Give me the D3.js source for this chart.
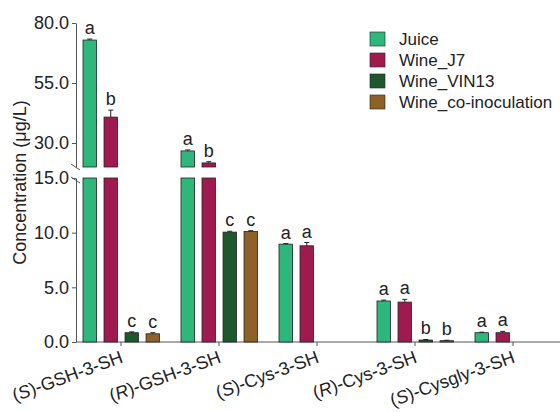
<!DOCTYPE html>
<html>
<head>
<meta charset="utf-8">
<script src="https://cdn.jsdelivr.net/npm/d3@7"></script>
<style>
  body { margin: 0; background: #fff; }
  svg text { font-family: "Liberation Sans", Arial, sans-serif; fill: #222; }
</style>
</head>
<body>
<svg id="chart" width="560" height="412"></svg>
<script>
// data
const categories = ["S-GSH-3-SH", "R-GSH-3-SH", "S-Cys-3-SH", "R-Cys-3-SH", "S-Cysgly-3-SH"];
const labelPrefix = ["S", "R", "S", "R", "S"];
const labelRest = ["-GSH-3-SH", "-GSH-3-SH", "-Cys-3-SH", "-Cys-3-SH", "-Cysgly-3-SH"];
const series = ["Juice", "Wine_J7", "Wine_VIN13", "Wine_co-inoculation"];
const colors = ["#2cb87b", "#a01a4f", "#1c5a2d", "#8e6126"];

// null = not detected
const juice = [72.9, 26.7, 8.95, 3.75, 0.85];
const wineJ7 = [40.8, 21.7, 8.8, 3.65, 0.85];
const wineVIN13 = [0.85, 10.05, null, 0.18, null];
const wineCo = [0.75, 10.1, null, 0.12, null];

const juiceErr = [0.4, 0.4, 0.05, 0.08, 0.05];
const wineJ7Err = [2.9, 0.5, 0.3, 0.25, 0.12];
const wineVIN13Err = [0.08, 0.08, null, 0.05, null];
const wineCoErr = [0.1, 0.08, null, 0.04, null];

const juiceSig = ["a", "a", "a", "a", "a"];
const wineJ7Sig = ["b", "b", "a", "a", "a"];
const wineVIN13Sig = ["c", "c", null, "b", null];
const wineCoSig = ["c", "c", null, "b", null];

const lowTicks = [0, 5, 10, 15];
const highTicks = [30, 55, 80];

const values = [juice, wineJ7, wineVIN13, wineCo];
const errs = [juiceErr, wineJ7Err, wineVIN13Err, wineCoErr];
const sigs = [juiceSig, wineJ7Sig, wineVIN13Sig, wineCoSig];

const svg = d3.select("#chart");
const axisX = 76;
const fs = 18;

const yLow = d3.scaleLinear().domain([0, 15]).range([342, 178]);
const yHigh = d3.scaleLinear().domain([20, 80]).range([167, 23]);
const yTop = v => v > 15 ? yHigh(v) : yLow(v);

const x0 = d3.scaleBand().domain(categories).range([72, 562]).padding(0);
const x1 = d3.scaleBand().domain(series).range([11, 87.5]).paddingInner(0.36);

const fmt = d3.format(".1f");

// y axes (two segments)
function styleAxis(g) {
  g.selectAll("path, line").attr("stroke", "#555").attr("stroke-width", 1);
  g.selectAll("text").attr("font-size", fs).attr("fill", "#222")
    .style("font-family", '"Liberation Sans", Arial, sans-serif');
}
svg.append("g").attr("transform", `translate(${axisX},0)`)
  .call(d3.axisLeft(yLow).tickValues(lowTicks).tickFormat(fmt).tickSize(4).tickSizeOuter(0).tickPadding(3))
  .call(styleAxis);
svg.append("g").attr("transform", `translate(${axisX},0)`)
  .call(d3.axisLeft(yHigh).tickValues(highTicks).tickFormat(fmt).tickSize(4).tickSizeOuter(0).tickPadding(3))
  .call(styleAxis);

// break marks on the y axis
[yHigh(20) - 3, yLow(15) - 1].forEach(y => {
  svg.append("line")
    .attr("x1", axisX - 5).attr("y1", y)
    .attr("x2", axisX + 4).attr("y2", y + 6)
    .attr("stroke", "#555").attr("stroke-width", 1);
});

// x axis
const xAxisG = svg.append("g").attr("transform", `translate(0,${yLow(0)})`)
  .call(d3.axisBottom(x0).tickSize(4).tickFormat(""))
  .call(styleAxis);
xAxisG.select(".domain").attr("d", `M${axisX},0H560`);

// category labels
categories.forEach((c, i) => {
  const t = svg.append("text")
    .attr("transform", `translate(${x0(c) + x0.bandwidth() / 2 + 3},362) rotate(-20)`)
    .attr("text-anchor", "end")
    .attr("font-size", fs);
  t.append("tspan").text("(");
  t.append("tspan").attr("font-style", "italic").text(labelPrefix[i]);
  t.append("tspan").text(")" + labelRest[i]);
});

// bars
series.forEach((s, si) => {
  const g = svg.append("g");
  categories.forEach((c, ci) => {
    const v = values[si][ci];
    if (v == null) return;
    const x = x0(c) + x1(s);
    const w = x1.bandwidth();
    if (v > 15) {
      g.append("rect").attr("x", x).attr("y", yLow(15)).attr("width", w)
        .attr("height", yLow(0) - yLow(15));
      g.append("rect").attr("x", x).attr("y", yHigh(v)).attr("width", w)
        .attr("height", yHigh(20) - yHigh(v));
    } else {
      g.append("rect").attr("x", x).attr("y", yLow(v)).attr("width", w)
        .attr("height", yLow(0) - yLow(v));
    }
    // error bar
    const e = errs[si][ci];
    const top = yTop(v + e);
    const cx = x + w / 2;
    svg.append("line").attr("x1", cx).attr("x2", cx).attr("y1", yTop(v)).attr("y2", top)
      .attr("stroke", "#222").attr("stroke-width", 1);
    svg.append("line").attr("x1", cx - 2.5).attr("x2", cx + 2.5).attr("y1", top).attr("y2", top)
      .attr("stroke", "#222").attr("stroke-width", 1);
    // significance letter
    svg.append("text").attr("x", cx).attr("y", top - 5)
      .attr("text-anchor", "middle").attr("font-size", fs)
      .text(sigs[si][ci]);
  });
  g.selectAll("rect").attr("fill", colors[si]).attr("stroke", "#222").attr("stroke-width", 0.8);
});

// legend
const legend = svg.append("g").attr("transform", "translate(370,32)");
series.forEach((s, i) => {
  const row = legend.append("g").attr("transform", `translate(0,${i * 21})`);
  row.append("rect").attr("width", 15).attr("height", 14)
    .attr("fill", colors[i]).attr("stroke", "#222").attr("stroke-width", 0.6);
  row.append("text").attr("x", 29).attr("y", 13).attr("font-size", 17).text(s);
});

// y label
svg.append("text")
  .attr("transform", `translate(26,${(yHigh(80) + yLow(0)) / 2}) rotate(-90)`)
  .attr("text-anchor", "middle").attr("font-size", fs)
  .text("Concentration (μg/L)");
</script>
</body>
</html>
